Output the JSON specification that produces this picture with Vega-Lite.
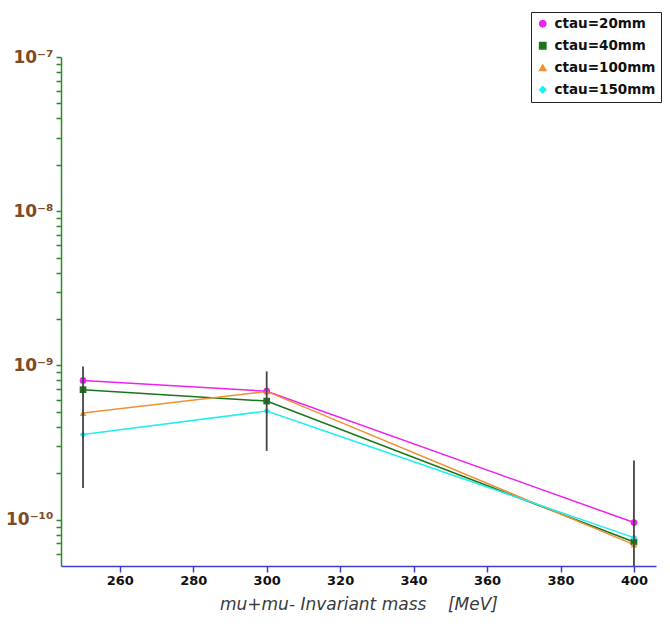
{
  "$schema": "https://vega.github.io/schema/vega-lite/v6.json",
  "width": 595,
  "height": 509,
  "autosize": {"type": "none"},
  "padding": {"left": 61, "top": 57, "right": 14, "bottom": 65},
  "background": "white",
  "config": {
    "view": {"stroke": null},
    "font": "DejaVu Sans",
    "legend": {
      "title": null, "orient": "none", "legendX": 470, "legendY": -45,
      "strokeColor": "#222", "fillColor": "white", "padding": 5,
      "labelFont": "DejaVu Sans", "labelFontWeight": "bold", "labelFontSize": 13.5, "labelColor": "#111",
      "symbolSize": 40, "rowPadding": 7, "labelOffset": 5
    }
  },
  "datasets": {
    "series": [
      {"mass": 250, "xs": 7.99e-10, "sample": "ctau=20mm"},
      {"mass": 300, "xs": 6.80e-10, "sample": "ctau=20mm"},
      {"mass": 400, "xs": 9.57e-11, "sample": "ctau=20mm"},
      {"mass": 250, "xs": 6.96e-10, "sample": "ctau=40mm"},
      {"mass": 300, "xs": 5.87e-10, "sample": "ctau=40mm"},
      {"mass": 400, "xs": 7.16e-11, "sample": "ctau=40mm"},
      {"mass": 250, "xs": 4.91e-10, "sample": "ctau=100mm"},
      {"mass": 300, "xs": 6.78e-10, "sample": "ctau=100mm"},
      {"mass": 400, "xs": 6.88e-11, "sample": "ctau=100mm"},
      {"mass": 250, "xs": 3.56e-10, "sample": "ctau=150mm"},
      {"mass": 300, "xs": 5.06e-10, "sample": "ctau=150mm"},
      {"mass": 400, "xs": 7.64e-11, "sample": "ctau=150mm"}
    ],
    "errors": [
      {"mass": 250, "lo": 1.6e-10, "hi": 9.85e-10},
      {"mass": 300, "lo": 2.79e-10, "hi": 9.14e-10},
      {"mass": 400, "lo": 2.0e-11, "hi": 2.42e-10}
    ]
  },
  "layer": [
    {
      "data": {"name": "series"},
      "mark": {"type": "line", "strokeWidth": 1.5},
      "encoding": {
        "x": {
          "field": "mass", "type": "quantitative",
          "scale": {"domain": [244, 406], "nice": false, "zero": false},
          "axis": {
            "title": "mu+mu- Invariant mass\u00a0\u00a0\u00a0\u00a0[MeV]",
            "values": [260, 280, 300, 320, 340, 360, 380, 400],
            "grid": false,
            "domainColor": "#3c3cd0", "domainWidth": 1.5,
            "tickColor": "#3c3cd0", "tickWidth": 1.5, "tickSize": 6,
            "labelFont": "DejaVu Sans", "labelFontWeight": "bold", "labelFontSize": 13, "labelColor": "#111",
            "labelPadding": 2,
            "titleFont": "DejaVu Sans", "titleFontStyle": "italic", "titleFontWeight": "normal",
            "titleFontSize": 17, "titleColor": "#3a3a3a", "titlePadding": 9
          }
        },
        "y": {
          "field": "xs", "type": "quantitative",
          "scale": {"type": "log", "domain": [5e-11, 1e-7], "nice": false, "zero": false},
          "axis": {
            "title": null,
            "grid": false,
            "values": [6e-11, 7e-11, 8e-11, 9e-11,
                       1e-10, 2e-10, 3e-10, 4e-10, 5e-10, 6e-10, 7e-10, 8e-10, 9e-10,
                       1e-9, 2e-9, 3e-9, 4e-9, 5e-9, 6e-9, 7e-9, 8e-9, 9e-9,
                       1e-8, 2e-8, 3e-8, 4e-8, 5e-8, 6e-8, 7e-8, 8e-8, 9e-8, 1e-7],
            "labelExpr": "abs(log(datum.value)/LN10 - round(log(datum.value)/LN10)) < 0.001 ? (round(log(datum.value)/LN10) == -7 ? '10⁻⁷' : round(log(datum.value)/LN10) == -8 ? '10⁻⁸' : round(log(datum.value)/LN10) == -9 ? '10⁻⁹' : '10⁻¹⁰') : ''",
            "domainColor": "#2a8a2a", "domainWidth": 1.5,
            "tickColor": "#2a8a2a", "tickWidth": 1.5, "tickSize": 5,
            "labelFont": "DejaVu Sans", "labelFontWeight": "bold", "labelFontSize": 17, "labelColor": "#7f4a24",
            "labelPadding": 3, "labelOverlap": false, "labelBaseline": "middle"
          }
        },
        "color": {
          "field": "sample", "type": "nominal",
          "scale": {"domain": ["ctau=20mm", "ctau=40mm", "ctau=100mm", "ctau=150mm"],
                    "range": ["#ee22ee", "#1a761a", "#f28e34", "#22eeee"]}
        },
        "detail": {"field": "sample"}
      }
    },
    {
      "data": {"name": "series"},
      "mark": {"type": "point", "filled": true, "opacity": 1, "size": 45},
      "encoding": {
        "x": {"field": "mass", "type": "quantitative"},
        "y": {"field": "xs", "type": "quantitative"},
        "color": {"field": "sample", "type": "nominal"},
        "shape": {
          "field": "sample", "type": "nominal",
          "scale": {"domain": ["ctau=20mm", "ctau=40mm", "ctau=100mm", "ctau=150mm"],
                    "range": ["circle", "square", "triangle-up", "diamond"]}
        }
      }
    },
    {
      "data": {"name": "errors"},
      "mark": {"type": "rule", "color": "#444", "strokeWidth": 1.8, "clip": true},
      "encoding": {
        "x": {"field": "mass", "type": "quantitative"},
        "y": {"field": "lo", "type": "quantitative"},
        "y2": {"field": "hi"}
      }
    }
  ]
}
